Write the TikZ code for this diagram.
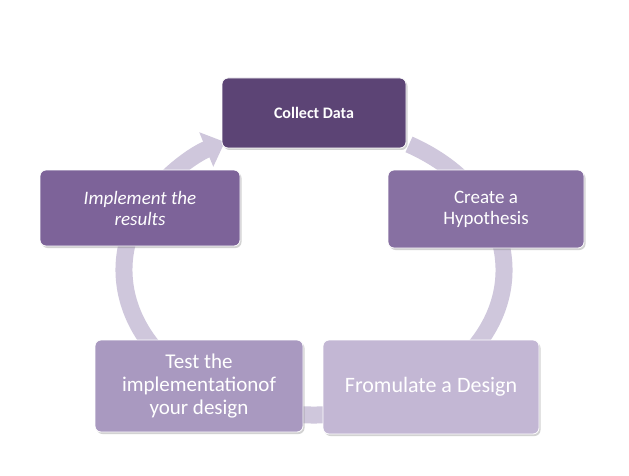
\documentclass[tikz,border=0pt]{standalone}
\usepackage{fontspec}
\setmainfont{Carlito}
\usetikzlibrary{arrows.meta,shadows}
\definecolor{ring}{HTML}{CFC7DC}
\definecolor{cA}{HTML}{5C4475}
\definecolor{cB}{HTML}{8770A2}
\definecolor{cC}{HTML}{C3B7D4}
\definecolor{cD}{HTML}{A999C0}
\definecolor{cE}{HTML}{7D6399}
\begin{document}
\begin{tikzpicture}[x=1pt,y=-1pt,
  box/.style={draw=white,line width=0.8pt,rounded corners=6pt,text=white,align=center,
    drop shadow={shadow xshift=1.5pt,shadow yshift=-2pt,opacity=0.35}}]
\useasboundingbox (0,0) rectangle (629,476);
\fill[white] (0,0) rectangle (629,476);
\coordinate (c) at (314,270);
\draw[ring,line width=17pt,-{Triangle[width=36pt,length=20pt]}]
  (c) ++(-60:190 and 145) arc[start angle=-60,end angle=242,x radius=190,y radius=145];
\node[box,fill=cA,minimum width=184pt,minimum height=70pt,font=\bfseries\fontsize{16}{19}\selectfont] (a) at (314,113) {Collect Data};
\node[box,fill=cB,minimum width=196pt,minimum height=78pt,font=\fontsize{19}{21}\selectfont] (b) at (486,209) {Create a\\Hypothesis};
\node[box,fill=cC,minimum width=216pt,minimum height=94pt,font=\fontsize{22}{24}\selectfont] (d) at (431,387) {Fromulate a Design};
\node[box,fill=cD,minimum width=208pt,minimum height=92pt,font=\fontsize{21}{23}\selectfont] (e) at (199,386) {Test the\\implementationof\\your design};
\node[box,fill=cE,minimum width=200pt,minimum height=76pt,font=\itshape\fontsize{19}{21}\selectfont] (f) at (140,208) {Implement the\\results};
\end{tikzpicture}
\end{document}
